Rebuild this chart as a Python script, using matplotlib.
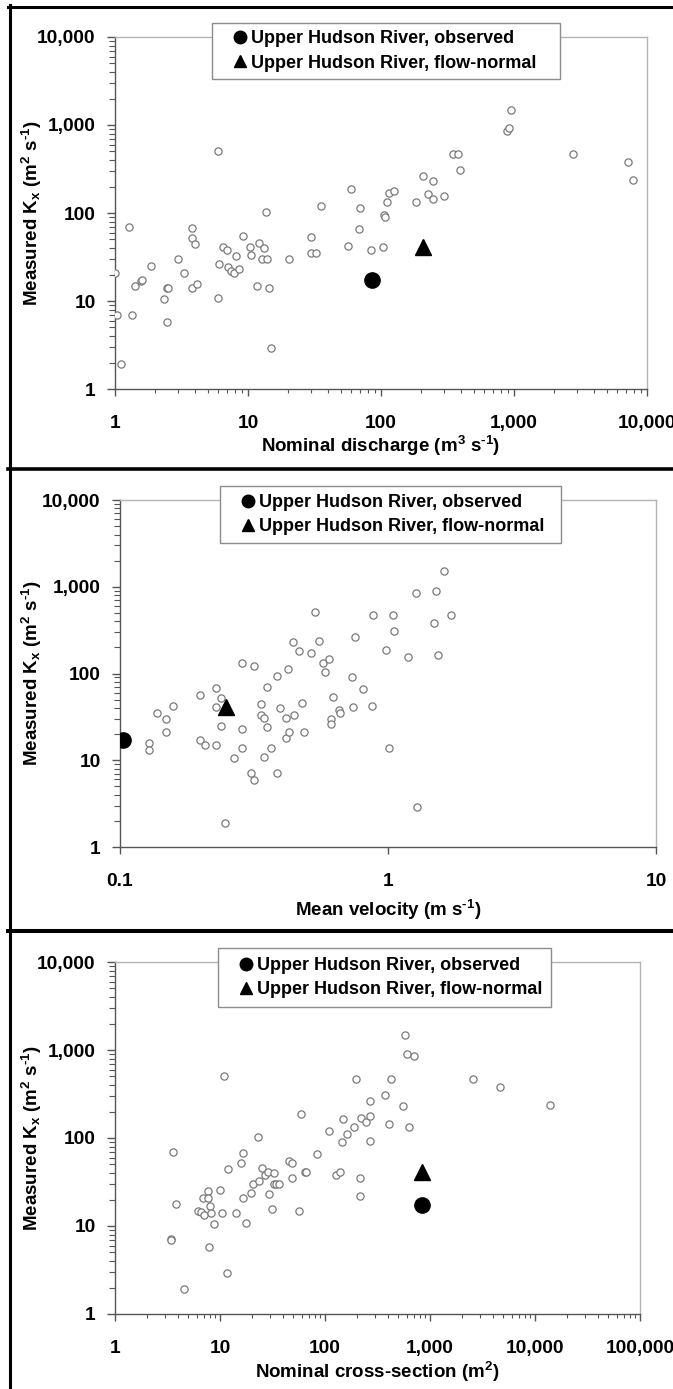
import matplotlib
matplotlib.use("Agg")
import matplotlib.pyplot as plt
from matplotlib.lines import Line2D
from matplotlib.patches import Rectangle
from matplotlib.ticker import LogLocator, NullFormatter, FuncFormatter, NullLocator

plt.rcParams['font.family'] = ['Liberation Sans', 'DejaVu Sans']
plt.rcParams['font.weight'] = 'bold'
plt.rcParams['mathtext.fontset'] = 'custom'
plt.rcParams['mathtext.rm'] = 'Liberation Sans:bold'
plt.rcParams['mathtext.bf'] = 'Liberation Sans:bold'
plt.rcParams['mathtext.default'] = 'rm'

# ---------------- data ----------------
discharge_x = [1.0, 1.04, 1.11, 1.27, 1.34, 1.41, 1.58, 1.60, 1.85, 2.33,
               2.44, 2.50, 2.48, 3.0, 3.3, 3.8, 3.8, 4.0, 3.8, 4.1,
               6.0, 6.1, 6.0, 6.5, 6.9, 7.1, 7.4, 7.9, 8.1, 8.6,
               9.2, 10.3, 10.6, 11.6, 12.0, 12.7, 13.1, 13.7, 13.9, 14.5,
               14.9, 20.4, 30, 30, 32.5, 35.5, 56, 60, 68, 70,
               84, 104, 106, 107, 110, 114, 125, 183, 206, 225,
               246, 248, 298, 350, 380, 395, 890, 925, 955, 2780,
               7240, 7860]
discharge_k = [21, 7, 1.9, 70, 7, 15, 17, 17.5, 25, 10.5,
               14, 14, 5.8, 30, 21, 67, 52, 45, 14, 15.6,
               500, 26, 10.7, 41, 38, 24.6, 22, 21, 32.6, 23,
               55, 41, 33, 15, 46, 30, 39.5, 103, 30, 14,
               2.9, 30, 53, 35.5, 35.5, 120, 42, 187, 65, 113,
               37.5, 41, 95, 90, 132, 168, 180, 132, 260, 164,
               145, 232, 154, 467, 467, 307, 845, 915, 1490, 467,
               375, 238]

velocity_x = [0.128, 0.128, 0.138, 0.148, 0.148, 0.158, 0.198, 0.198, 0.208, 0.2275,
              0.2275, 0.2275, 0.238, 0.238, 0.247, 0.266, 0.286, 0.286, 0.286, 0.307,
              0.316, 0.316, 0.335, 0.335, 0.345, 0.346, 0.354, 0.354, 0.366, 0.385,
              0.385, 0.394, 0.416, 0.416, 0.425, 0.426, 0.442, 0.446, 0.464, 0.476,
              0.485, 0.515, 0.534, 0.555, 0.574, 0.583, 0.604, 0.613, 0.615, 0.622,
              0.655, 0.66, 0.737, 0.743, 0.75, 0.81, 0.87, 0.88, 0.98, 1.005,
              1.04, 1.05, 1.19, 1.27, 1.28, 1.49, 1.51, 1.54, 1.62, 1.72]
velocity_k = [16, 13, 35.5, 30, 21, 42, 56, 17, 15, 68,
              41, 15, 52, 25, 1.9, 10.5, 133, 23, 14, 7.1,
              121, 5.9, 45, 33, 31, 11, 70, 24, 14, 94,
              7.2, 40, 31, 18, 113, 21, 228, 33, 181, 46,
              21, 172, 510, 238, 133, 104, 146, 30, 26.5, 54,
              38, 35, 91, 41, 262, 66, 42, 470, 189, 14,
              467, 310, 154, 850, 2.9, 380, 905, 164, 1500, 470]

area_x = [3.38, 3.42, 3.55, 3.8, 4.5, 6.2, 6.65, 6.97, 6.9, 7.7,
          7.7, 8.1, 8.2, 7.9, 8.7, 10.1, 10.4, 11, 11.6, 11.9,
          14.2, 15.8, 16.4, 16.7, 17.5, 19.9, 20.5, 23.2, 23.4, 25.2,
          27, 28.8, 29.3, 31.5, 32.4, 32.8, 33.8, 36.6, 45.8, 48,
          48, 56, 59.3, 65, 65.7, 84, 110, 126, 140, 144,
          147, 162, 188, 198, 217, 217, 221, 245, 270, 271,
          271, 369, 409, 421, 553, 580, 600, 630, 705, 2580,
          4680, 13800]
area_k = [7.1, 7.0, 70, 17.7, 1.9, 15, 14.3, 13.4, 21, 25,
          21, 17, 14, 5.8, 10.5, 25.7, 14, 500, 2.9, 45,
          14, 52, 21, 67, 10.7, 24, 30, 103, 32.6, 46,
          38, 41, 23, 15.6, 40, 30, 30, 30, 55, 52,
          35.5, 15, 187, 41.5, 41, 65.5, 120, 37.5, 41, 90,
          164, 112, 132, 467, 35.5, 22, 168, 153, 180, 260,
          93, 310, 145, 467, 232, 1490, 890, 132, 845, 467,
          375, 238]

# Upper Hudson River points: (observed x, flow-normal x) per panel
hudson_discharge = [86, 206]
hudson_velocity = [0.103, 0.249]
hudson_area = [830, 830]
hudson_k = [17.3, 41]

legend_labels = ["Upper Hudson River, observed", "Upper Hudson River, flow-normal"]
y_label = r"Measured K$_{x}$ (m$^{2}$ s$^{\text{-1}}$)"
x_labels = [r"Nominal discharge (m$^{3}$ s$^{\text{-1}}$)",
            r"Mean velocity (m s$^{\text{-1}}$)",
            r"Nominal cross-section (m$^{2}$)"]
x_limits = [(1, 10000), (0.1, 10), (1, 100000)]
y_limits = (1, 10000)

# ---------------- layout ----------------
W, H = 673, 1389
fig = plt.figure(figsize=(W / 100, H / 100), dpi=100)

def fx(px):
    return px / W

def fy(py):
    return 1 - py / H

# axes boxes in pixels: (left, top, right, bottom)
boxes = [(115, 37, 647, 389), (120, 500, 656, 847), (115, 962, 640, 1314)]
legend_boxes = [(212, 23, 560, 79), (220, 486, 561, 543), (218, 948, 551, 1007)]
xlabel_centers = [446, 910, 1372]

datasets = [(discharge_x, discharge_k, hudson_discharge),
            (velocity_x, velocity_k, hudson_velocity),
            (area_x, area_k, hudson_area)]

def fmt(v, pos):
    if v < 1:
        return "%g" % v
    return "{:,.0f}".format(v)

FS_TICK = 13.8
FS_LABEL = 13.5
FS_LEG = 13
dark = "#555555"
light = "#b4b4b4"

for i, (box, lbox, (xs, ks, hx)) in enumerate(zip(boxes, legend_boxes, datasets)):
    l, t, r, b = box
    ax = fig.add_axes([fx(l), fy(b), fx(r) - fx(l), fy(t) - fy(b)])
    ax.set_xscale("log")
    ax.set_yscale("log")
    ax.set_xlim(*x_limits[i])
    ax.set_ylim(*y_limits)

    ax.plot(xs, ks, linestyle="none", marker="o", markersize=5.2,
            markerfacecolor="white", markeredgecolor="#7a7a7a",
            markeredgewidth=0.9, zorder=3)
    ax.plot([hx[0]], [hudson_k[0]], linestyle="none", marker="o",
            markersize=11, color="black", zorder=4)
    ax.plot([hx[1]], [hudson_k[1]], linestyle="none", marker="^",
            markersize=11, color="black", zorder=4)

    for side in ("left", "bottom"):
        ax.spines[side].set_color(dark)
        ax.spines[side].set_linewidth(1.0)
    for side in ("top", "right"):
        ax.spines[side].set_color(light)
        ax.spines[side].set_linewidth(1.0)

    ax.yaxis.set_major_locator(LogLocator(base=10, numticks=10))
    ax.yaxis.set_minor_locator(LogLocator(base=10, subs=range(2, 10), numticks=10))
    ax.yaxis.set_minor_formatter(NullFormatter())
    ax.yaxis.set_major_formatter(FuncFormatter(fmt))
    ax.xaxis.set_major_locator(LogLocator(base=10, numticks=10))
    if i == 1:
        ax.xaxis.set_minor_locator(NullLocator())
    else:
        ax.xaxis.set_minor_locator(LogLocator(base=10, subs=range(2, 10), numticks=10))
    ax.xaxis.set_minor_formatter(NullFormatter())
    ax.xaxis.set_major_formatter(FuncFormatter(fmt))

    ax.tick_params(axis="y", which="major", direction="out", length=6, width=1,
                   color=dark, pad=8, labelsize=FS_TICK)
    ax.tick_params(axis="y", which="minor", direction="out", length=4, width=0.8,
                   color=dark)
    ax.tick_params(axis="x", which="major", direction="out", length=5, width=1,
                   color=dark, pad=14, labelsize=FS_TICK)
    ax.tick_params(axis="x", which="minor", direction="out", length=3, width=0.8,
                   color=dark)
    for lab in ax.get_xticklabels() + ax.get_yticklabels():
        lab.set_fontweight("bold")

    ax.set_ylabel(y_label, fontsize=FS_LABEL, fontweight="bold")
    ax.yaxis.set_label_coords((44 - l) / (r - l), 0.5)
    ax.set_xlabel(x_labels[i], fontsize=FS_LABEL, fontweight="bold", va="center")
    ax.xaxis.set_label_coords(0.5, (b - xlabel_centers[i]) / (b - t))

    # legend frame
    ll, lt, lr, lb = lbox
    rect = Rectangle((fx(ll), fy(lb)), fx(lr) - fx(ll), fy(lt) - fy(lb),
                     transform=fig.transFigure, facecolor="white",
                     edgecolor="#8c8c8c", linewidth=1.0, clip_on=False, zorder=5)
    ax.add_artist(rect)
    handles = [Line2D([], [], linestyle="none", marker="o", markersize=9, color="black"),
               Line2D([], [], linestyle="none", marker="^", markersize=9, color="black")]
    leg = ax.legend(handles, legend_labels, loc="center left",
                    bbox_to_anchor=(fx(ll + 22), fy((lt + lb) / 2)),
                    bbox_transform=fig.transFigure, frameon=False,
                    borderpad=0, borderaxespad=0, handlelength=0.7,
                    handletextpad=0.25, labelspacing=0.4,
                    prop={"size": FS_LEG, "weight": "bold"})
    leg.set_zorder(6)

# outer frame lines
def hline(py, x0, x1, lw):
    fig.add_artist(Line2D([fx(x0), fx(x1)], [fy(py), fy(py)],
                          transform=fig.transFigure, color="black", linewidth=lw))

def vline(px, y0, y1, lw):
    fig.add_artist(Line2D([fx(px), fx(px)], [fy(y0), fy(y1)],
                          transform=fig.transFigure, color="black", linewidth=lw))

hline(6.5, 8, W, 2.2)
hline(468.5, 8, W, 2.6)
hline(931, 8, W, 2.9)
vline(9.5, 5, H, 2.2)

fig.savefig("out.png", dpi=100)
